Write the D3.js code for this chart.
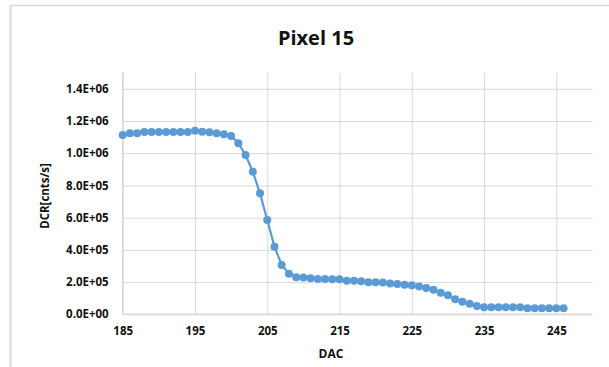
<!DOCTYPE html>
<html>
<head>
<meta charset="utf-8">
<script src="https://cdn.jsdelivr.net/npm/d3@7"></script>
<style>
  html, body { margin: 0; padding: 0; background: #fff; }
  svg { display: block; }
  text { font-family: "Open Sans", Lato, sans-serif; font-weight: bold; fill: #111; }
</style>
</head>
<body>
<svg id="chart" width="609" height="367"></svg>
<script>
// DAC settings scanned for pixel 15
const dac = d3.range(185, 247);
// Dark count rate (counts per second) at each DAC setting
const dcr = [
  1113000, 1124000, 1124000, 1132000, 1132000, 1132000, 1132000, 1132000, 1132000, 1132000,
  1140000, 1134000, 1130000, 1124000, 1118000, 1107000, 1062000, 989000, 885000, 751000,
  585000, 420000, 306000, 252000, 230000, 228000, 224000, 219000, 219000, 217000,
  217000, 209000, 209000, 205000, 199000, 199000, 197000, 192000, 188000, 183000,
  180000, 172000, 164000, 153000, 134000, 118000, 93000, 78000, 66000, 52000,
  43000, 43000, 43000, 43000, 43000, 43000, 38000, 38000, 38000, 38000,
  38000, 38000
];
const xTicks = [185, 195, 205, 215, 225, 235, 245];
const yTicks = [0, 200000, 400000, 600000, 800000, 1000000, 1200000, 1400000];
const yTickLabels = ["0.0E+00", "2.0E+05", "4.0E+05", "6.0E+05", "8.0E+05", "1.0E+06", "1.2E+06", "1.4E+06"];
const titleText = "Pixel 15";
const xTitle = "DAC";
const yTitle = "DCR[cnts/s]";

const svg = d3.select("#chart");
const plot = { left: 122.7, right: 592.5, top: 72.7, bottom: 314.3 };
const grid = "#d9d9d9";
const blue = "#5b9bd5";

// Outer chart frame (top and left edges)
svg.append("line").attr("x1", 10.5).attr("x2", 609).attr("y1", 5.5).attr("y2", 5.5)
  .attr("stroke", grid).attr("stroke-width", 1.5);
svg.append("line").attr("x1", 10.5).attr("x2", 10.5).attr("y1", 5).attr("y2", 367)
  .attr("stroke", grid).attr("stroke-width", 2);

const x = d3.scaleLinear().domain([185, 250]).range([plot.left, plot.right]);
const y = d3.scaleLinear().domain([0, 1500000]).range([plot.bottom, plot.top]);

// Horizontal gridlines + y tick labels
const yAxis = d3.axisLeft(y).tickValues(yTicks)
  .tickFormat((d, i) => yTickLabels[i])
  .tickSize(-(plot.right - plot.left)).tickPadding(14);
const gy = svg.append("g").attr("transform", `translate(${plot.left},0)`).call(yAxis);
gy.select(".domain").remove();
gy.selectAll(".tick line").attr("stroke", grid).attr("stroke-width", 1);
gy.selectAll(".tick text").style("font-size", "11.5px").attr("fill", "#111");

// Vertical gridlines + x tick labels
const xAxis = d3.axisBottom(x).tickValues(xTicks).tickFormat(d3.format("d"))
  .tickSize(-(plot.bottom - plot.top)).tickPadding(13);
const gx = svg.append("g").attr("transform", `translate(0,${plot.bottom})`).call(xAxis);
gx.select(".domain").remove();
gx.selectAll(".tick line").attr("stroke", grid).attr("stroke-width", 1);
gx.selectAll(".tick text").style("font-size", "11.5px").attr("fill", "#111");

// Axis lines
svg.append("line").attr("x1", plot.left).attr("x2", plot.left)
  .attr("y1", plot.top).attr("y2", plot.bottom).attr("stroke", grid).attr("stroke-width", 1.5);
svg.append("line").attr("x1", plot.left).attr("x2", plot.right)
  .attr("y1", plot.bottom).attr("y2", plot.bottom).attr("stroke", grid).attr("stroke-width", 1.5);

// Series line and markers
const pts = dac.map((d, i) => [d, dcr[i]]);
svg.append("path").datum(pts)
  .attr("fill", "none").attr("stroke", blue).attr("stroke-width", 2.2)
  .attr("d", d3.line().x(d => x(d[0])).y(d => y(d[1])));
svg.append("g").selectAll("circle").data(pts).join("circle")
  .attr("cx", d => x(d[0])).attr("cy", d => y(d[1])).attr("r", 4)
  .attr("fill", blue);

// Titles
svg.append("text").attr("x", 316).attr("y", 45).attr("text-anchor", "middle")
  .style("font-size", "20px").text(titleText);
svg.append("text").attr("x", 331).attr("y", 358).attr("text-anchor", "middle")
  .style("font-size", "12px").text(xTitle);
svg.append("text").attr("transform", "translate(49,196) rotate(-90)")
  .attr("text-anchor", "middle").style("font-size", "11.5px").text(yTitle);
</script>
</body>
</html>
